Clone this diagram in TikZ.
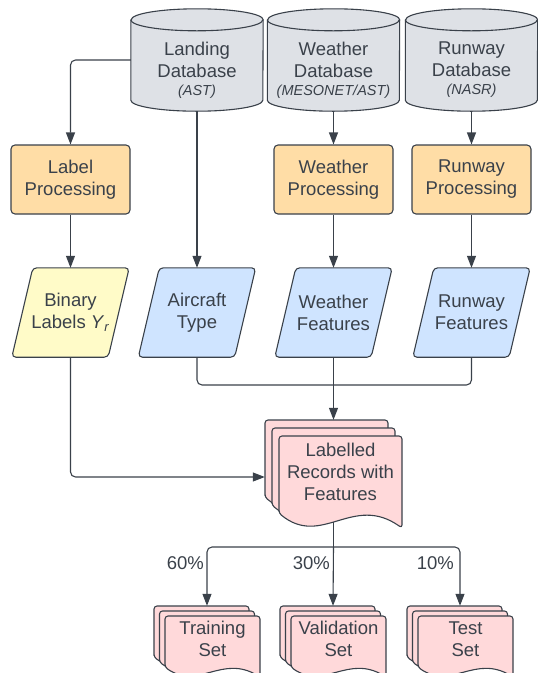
\documentclass[tikz,border=0pt]{standalone}
\usepackage{fontspec}
\setmainfont{Liberation Sans}
\usetikzlibrary{arrows.meta,calc}
\pgfdeclarelayer{bg}
\pgfsetlayers{bg,main}
\definecolor{linec}{HTML}{3A414A}
\definecolor{txtc}{HTML}{3A414A}
\definecolor{cylf}{HTML}{DEE1E6}
\definecolor{orangef}{HTML}{FFDDA6}
\definecolor{yellowf}{HTML}{FFFBC8}
\definecolor{bluef}{HTML}{CFE4FF}
\definecolor{pinkf}{HTML}{FFD9DA}
\tikzset{
  every node/.style={font=\fontsize{18.5}{22}\selectfont, text=txtc, align=center, inner sep=0pt},
  shp/.style={draw=linec, line width=1.1pt, line join=round},
  cylbox/.style={minimum width=132pt, minimum height=102pt},
  procbox/.style={shp, fill=orangef, rounded corners=4pt, minimum width=119pt, minimum height=69pt},
  parabox/.style={minimum width=117pt, minimum height=89pt},
  line/.style={draw=linec, line width=1.1pt, rounded corners=5pt},
  conn/.style={line, -{Triangle[length=12pt,width=9pt]}},
  pct/.style={anchor=east},
}
\newcommand\drawcyl[1]{%
  \filldraw[shp, fill=cylf] ([yshift=-11pt]#1.north west) -- ([yshift=11pt]#1.south west)
    arc[start angle=180,end angle=360,x radius=66pt,y radius=11pt]
    -- ([yshift=-11pt]#1.north east)
    arc[start angle=0,end angle=180,x radius=66pt,y radius=11pt] -- cycle;
  \draw[shp] ([yshift=-11pt]#1.north west) arc[start angle=180,end angle=360,x radius=66pt,y radius=11pt];}
\newcommand\drawpara[2]{%
  \filldraw[shp, fill=#2, rounded corners=4pt] (#1.south west) -- ([xshift=21pt]#1.north west)
    -- (#1.north east) -- ([xshift=-21pt]#1.south east) -- cycle;}
\newcommand\docsheet[4]{%
  \filldraw[shp, fill=pinkf, rounded corners=3pt] (#1,{#2+0.84*#4}) -- (#1,#2) -- ({#1+#3},#2)
    -- ({#1+#3},{#2+#4}) .. controls ({#1+0.6*#3},{#2+0.62*#4}) and ({#1+0.35*#3},{#2+1.22*#4}) .. (#1,{#2+0.84*#4}) -- cycle;}
\newcommand\docstack[6]{%
  \docsheet{#1}{#2}{#5}{#6}%
  \docsheet{#1+#3}{#2+#4}{#5}{#6}%
  \docsheet{#1+2*#3}{#2+2*#4}{#5}{#6}}
\begin{document}
\begin{tikzpicture}[x=1pt,y=-1pt]
\useasboundingbox (0,0) rectangle (538,673);
% databases
\node[cylbox] (land) at (197,60) {};
\node[cylbox] (wdb) at (333.5,60) {};
\node[cylbox] (rdb) at (471.5,60) {};
\node (landT) at (197,70) {Landing\\Database\\[-4pt]{\fontsize{14.5}{18}\selectfont\itshape (AST)}};
\node (wdbT) at (333.5,70) {Weather\\Database\\[-4pt]{\fontsize{14.5}{18}\selectfont\itshape (MESONET/AST)}};
\node (rdbT) at (471.5,70) {Runway\\Database\\[-4pt]{\fontsize{14.5}{18}\selectfont\itshape (NASR)}};
% processing
\node[procbox] (labp) at (70.5,179.5) {Label\\Processing};
\node[procbox] (wpro) at (333.5,179.5) {Weather\\Processing};
\node[procbox] (rpro) at (471.5,179.5) {Runway\\Processing};
% data
\node[parabox] (bin) at (70.5,312.5) {Binary\\Labels \textit{Y}\textsubscript{\textit{r}}};
\node[parabox] (air) at (197,312.5) {Aircraft\\Type};
\node[parabox] (wfeat) at (333.5,312.5) {Weather\\Features};
\node[parabox] (rfeat) at (471.5,312.5) {Runway\\Features};
% records
\node[minimum width=137pt, minimum height=108pt] (rec) at (333.5,474) {};
\node[minimum width=106pt, minimum height=71pt] (train) at (207,641.5) {};
\node[minimum width=106pt, minimum height=71pt] (val) at (333,641.5) {};
\node[minimum width=106pt, minimum height=71pt] (test) at (460,641.5) {};
\begin{pgfonlayer}{bg}
  \drawcyl{land}\drawcyl{wdb}\drawcyl{rdb}
  \drawpara{bin}{yellowf}\drawpara{air}{bluef}\drawpara{wfeat}{bluef}\drawpara{rfeat}{bluef}
  \docstack{265}{420}{7}{8}{123}{92}
  \docstack{154}{606}{5.5}{5}{95}{61}
  \docstack{280}{606}{5.5}{5}{95}{61}
  \docstack{407}{606}{5.5}{5}{95}{61}
\end{pgfonlayer}
\node (recT) at (340.5,472) {Labelled\\Records with\\Features};
\node (trainT) at (212.5,639) {Training\\Set};
\node (valT) at (338.5,639) {Validation\\Set};
\node (testT) at (465.5,639) {Test\\Set};
% connectors
\draw[conn] (land.west) -| (labp.north);
\draw[conn] (land.south) -- (air.north);
\draw[conn] (wdb.south) -- (wpro.north);
\draw[conn] (rdb.south) -- (rpro.north);
\draw[conn] (labp.south) -- (bin.north);
\draw[conn] (wpro.south) -- (wfeat.north);
\draw[conn] (rpro.south) -- (rfeat.north);
\coordinate (mj) at (333.5,385);
\draw[line] (air.south) |- (mj);
\draw[line] (rfeat.south) |- (mj);
\draw[conn] (wfeat.south) -- (rec.north);
\draw[conn] (bin.south) |- ([yshift=-3pt]rec.west);
\coordinate (sp) at (333.5,547);
\draw[line] ([yshift=6pt]rec.south) -- (sp);
\draw[conn] (sp) -| (train.north);
\draw[conn] (sp) -- (val.north);
\draw[conn] (sp) -| (test.north);
\node[pct] (p60) at (204,563) {60\%};
\node[pct] (p30) at (330,563) {30\%};
\node[pct] (p10) at (454,563) {10\%};
\end{tikzpicture}
\end{document}
